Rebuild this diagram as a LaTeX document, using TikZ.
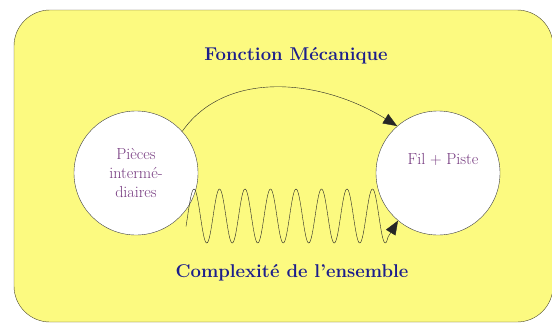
\documentclass[tikz,border=0pt]{standalone}
\usetikzlibrary{arrows.meta}
\definecolor{fondjaune}{RGB}{252,250,128}
\definecolor{bleutitre}{RGB}{28,30,140}
\definecolor{violet}{RGB}{118,58,128}
\begin{document}
\begin{tikzpicture}[x=1pt,y=-1pt,
  bulle/.style={circle,draw=black!75,thin,fill=white,minimum size=124pt,inner sep=0pt,
    text=violet,align=center,font=\fontsize{16}{19}\selectfont},
  titre/.style={text=bleutitre,font=\fontsize{18.5}{20}\selectfont\bfseries},
  fleche/.style={-{Triangle[length=14pt,width=11pt]},black!85}]
\useasboundingbox (0,0) rectangle (552,322);
\draw[fill=fondjaune,draw=black!60!olive,thin,rounded corners=36pt] (14,10) rectangle (553,322);
\node[titre] (haut) at (296,56) {Fonction Mécanique};
\node[titre] (bas) at (292,273) {Complexité de l'ensemble};
\node[bulle] (pieces) at (136,173) {Pièces\\intermé-\\diaires};
\node[bulle] (fil) at (438,173) {\hspace*{10pt}Fil + Piste\\[3pt]\strut};
\draw[fleche] (pieces.42) .. controls (225,70) and (320,78) .. (fil.131);
% ressort
\draw[fleche] plot[domain=186:388,samples=300] (\x,{216-27*cos(14.1176*(\x-194))}) -- (fil.230);
\end{tikzpicture}
\end{document}
